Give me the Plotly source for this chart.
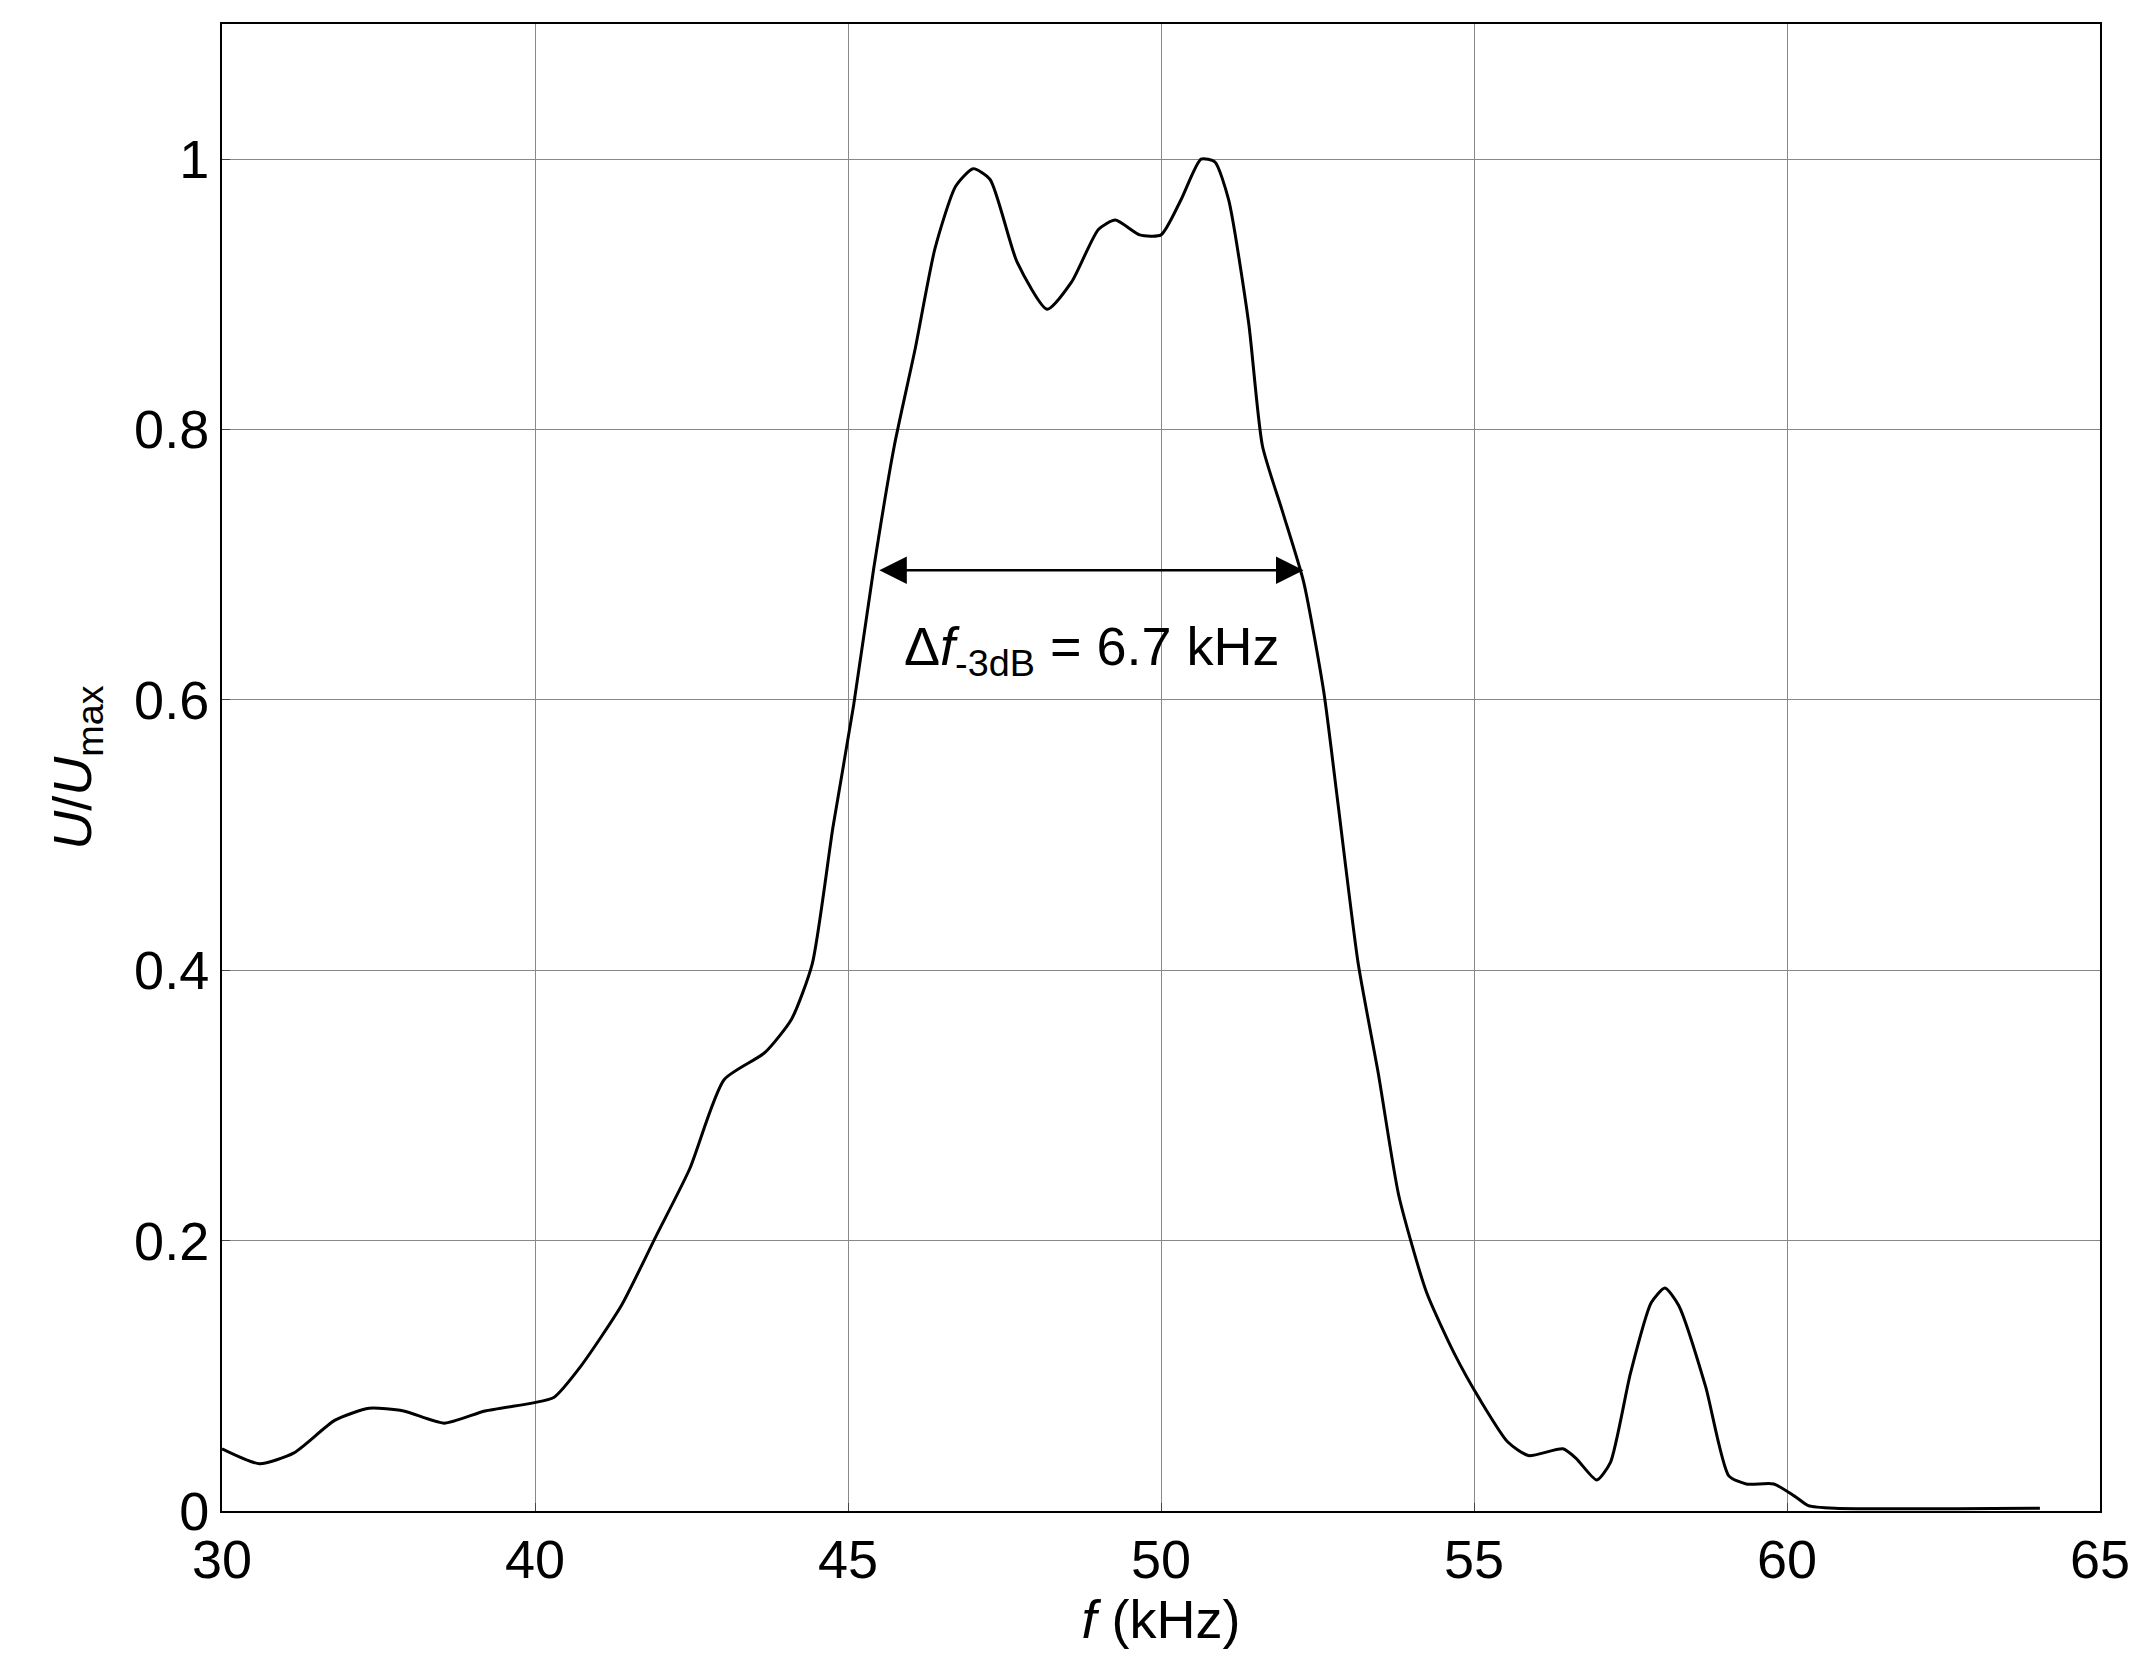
import plotly.graph_objects as go

# x in axis units (axis ticks at 35..65 equally spaced, first labelled "30")
freq = [35, 35.6, 36.15, 36.8, 37.35, 37.9, 38.55, 39.2, 39.97, 40.3, 40.73, 41.38, 41.93, 42.47,
        43.02, 43.67, 44.1, 44.43, 44.76, 45.09, 45.41, 45.74, 46.07, 46.39, 46.72, 47.0, 47.27,
        47.7, 48.18, 48.57, 49.0, 49.27, 49.66, 50.0, 50.32, 50.64, 50.86, 51.08, 51.4, 51.62,
        51.95, 52.28, 52.6, 52.82, 53.15, 53.47, 53.8, 54.24, 54.68, 55.1, 55.54, 55.87, 56.42,
        56.63, 56.96, 57.18, 57.5, 57.83, 58.05, 58.27, 58.7, 59.07, 59.35, 59.79, 60.12, 60.34,
        60.77, 64.04]
amp = [0.046, 0.035, 0.043, 0.067, 0.076, 0.074, 0.065, 0.074, 0.08, 0.084, 0.107, 0.152, 0.203,
       0.253, 0.319, 0.339, 0.364, 0.405, 0.506, 0.596, 0.697, 0.788, 0.859, 0.934, 0.98, 0.993,
       0.985, 0.924, 0.889, 0.909, 0.948, 0.955, 0.944, 0.944, 0.97, 1.0, 0.998, 0.97, 0.879,
       0.788, 0.738, 0.687, 0.606, 0.526, 0.405, 0.324, 0.233, 0.162, 0.117, 0.082, 0.051, 0.041,
       0.046, 0.039, 0.023, 0.036, 0.102, 0.154, 0.165, 0.152, 0.092, 0.026, 0.02, 0.02, 0.011,
       0.004, 0.002, 0.002]
xtick_vals = [35, 40, 45, 50, 55, 60, 65]
xtick_text = ["30", "40", "45", "50", "55", "60", "65"]
ytick_vals = [0, 0.2, 0.4, 0.6, 0.8, 1]
ytick_text = ["0", "0.2", "0.4", "0.6", "0.8", "1"]
bw_left, bw_right, bw_level = 45.5, 52.3, 0.696

fig = go.Figure(go.Scatter(x=freq, y=amp, mode="lines", line=dict(color="black", width=3, shape="spline", smoothing=0.6)))
F = "Liberation Sans, Arial, sans-serif"
ax_common = dict(showgrid=True, gridcolor="#888", gridwidth=1, showline=True, linecolor="black",
                 linewidth=2, mirror=True, ticks="inside", ticklen=8, zeroline=False,
                 tickfont=dict(family=F, size=54, color="black"))
fig.update_xaxes(range=[35, 65], tickvals=xtick_vals, ticktext=xtick_text,
                 title=dict(text="<i>f</i> (kHz)", font=dict(family=F, size=54, color="black"), standoff=5), **ax_common)
fig.update_yaxes(range=[0, 1.1], tickvals=ytick_vals, ticktext=ytick_text,
                 title=dict(text="<i>U</i>/<i>U</i><sub>max</sub>", font=dict(family=F, size=54, color="black"), standoff=25), **ax_common)
fig.add_annotation(x=bw_left, y=bw_level, ax=bw_right, ay=bw_level, xref="x", yref="y", axref="x", ayref="y",
                   text="", showarrow=True, arrowhead=2, arrowside="end+start", arrowsize=2.2, arrowwidth=2.5, arrowcolor="black")
fig.add_annotation(x=(bw_left + bw_right) / 2, y=0.637, xref="x", yref="y", showarrow=False,
                   text="Δ<i>f</i><sub>-3dB</sub> = 6.7 kHz", font=dict(family=F, size=54, color="black"))
fig.update_layout(width=2137, height=1672, plot_bgcolor="white", paper_bgcolor="white", showlegend=False,
                  margin=dict(l=214, r=45, t=16, b=169))
fig.write_html("out.html")
